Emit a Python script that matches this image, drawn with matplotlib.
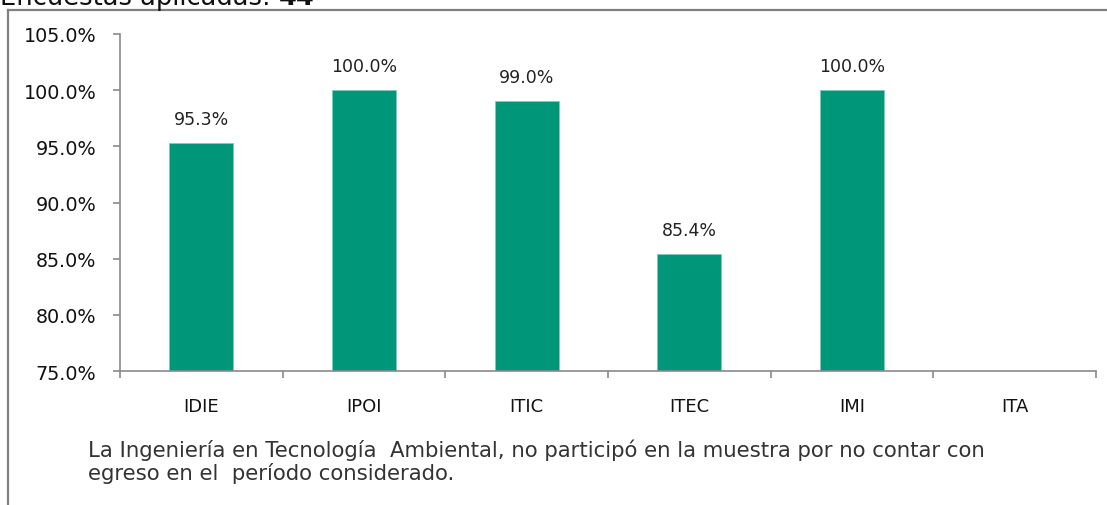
import matplotlib
matplotlib.use("Agg")
import matplotlib.pyplot as plt
import numpy as np
from matplotlib.lines import Line2D

categories = ["IDIE", "IPOI", "ITIC", "ITEC", "IMI", "ITA"]
values = [95.3, 100.0, 99.0, 85.4, 100.0, np.nan]
yticks = [75, 80, 85, 90, 95, 100, 105]
title_main = "Encuestas aplicadas: "
title_num = "44"
note_lines = ["La Ingeniería en Tecnología  Ambiental, no participó en la muestra por no contar con",
              "egreso en el  período considerado."]

W, H = 1107, 506
fig = plt.figure(figsize=(W / 100, H / 100), dpi=100)
fig.patch.set_facecolor("white")

ax = fig.add_axes([120 / W, 1 - 372 / H, (1096 - 120) / W, (372 - 35) / H])
x = np.arange(len(categories))
bar_color = "#00967A"
ax.bar(x, values, width=0.395, color=bar_color, edgecolor="#7fcbb9", linewidth=0.6, bottom=0)
ax.set_xlim(-0.5, len(categories) - 0.5)
ax.set_ylim(75, 105)

axis_color = "#8a8a8a"
for s in ["top", "right"]:
    ax.spines[s].set_visible(False)
for s in ["left", "bottom"]:
    ax.spines[s].set_color(axis_color)
    ax.spines[s].set_linewidth(1.2)

ax.set_yticks(yticks)
ax.set_yticklabels([f"{v:.1f}%" for v in yticks])
ax.tick_params(axis="y", direction="out", length=5, width=1.2, color=axis_color,
               labelsize=13.8, labelcolor="#111111", pad=12)

ax.set_xticks(np.arange(-0.5, len(categories), 1.0))
ax.set_xticklabels([])
ax.set_xticks(x, minor=True)
ax.set_xticklabels(categories, minor=True)
ax.tick_params(axis="x", which="major", direction="out", length=5, width=1.2, color=axis_color)
ax.tick_params(axis="x", which="minor", length=0, labelsize=13, labelcolor="#111111", pad=19)

for xi, v in zip(x, values):
    if not np.isnan(v):
        ax.annotate(f"{v:.1f}%", (xi, v), xytext=(0, 11), textcoords="offset points",
                    ha="center", va="bottom", fontsize=12.5, color="#222222")

# Border box
fig.add_artist(Line2D([7.5 / W, 7.5 / W], [0, 1 - 11 / H], transform=fig.transFigure,
                      color="#808080", lw=1.6))
fig.add_artist(Line2D([7.5 / W, 1.0], [1 - 11 / H, 1 - 11 / H], transform=fig.transFigure,
                      color="#808080", lw=1.6))

# Title (clipped at top, as in the reference)
t1 = fig.text(0.0, 1 - 5 / H, title_main, fontsize=18.5, color="#111111", ha="left", va="baseline")
fig.canvas.draw()
r = fig.canvas.get_renderer()
bb = t1.get_window_extent(r)
fig.text(bb.x1 / W, 1 - 5 / H, title_num, fontsize=18.5, fontweight="bold", color="#111111",
         ha="left", va="baseline")

# Note
fig.text(88 / W, 1 - 450 / H, note_lines[0], fontsize=15.3, color="#333333", ha="left", va="center")
fig.text(88 / W, 1 - 474 / H, note_lines[1], fontsize=15.3, color="#333333", ha="left", va="center")

fig.savefig("out.png", dpi=100, facecolor="white")
